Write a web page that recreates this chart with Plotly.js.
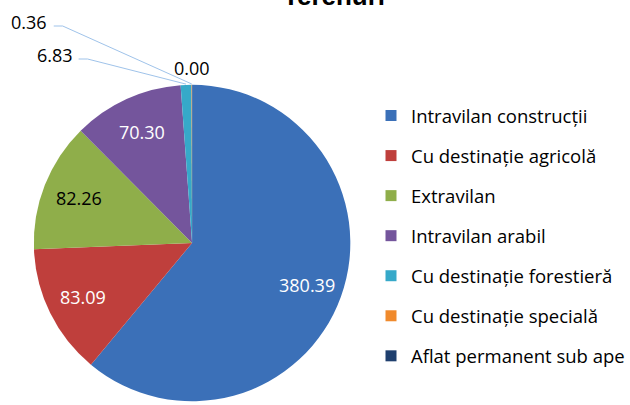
<!DOCTYPE html>
<html>
<head>
<meta charset="utf-8">
<script src="https://cdn.plot.ly/plotly-3.0.1.min.js"></script>
<style>html,body{margin:0;padding:0;background:#fff}#chart{width:630px;height:405px}</style>
</head>
<body>
<div id="chart"></div>
<script>
// ---- data ----
const categories = [
  "Intravilan construcții",
  "Cu destinație agricolă",
  "Extravilan",
  "Intravilan arabil",
  "Cu destinație forestieră",
  "Cu destinație specială",
  "Aflat permanent sub ape"
];
const values = [380.39, 83.09, 82.26, 70.30, 6.83, 0.36, 0.00];
const valueLabels = ["380.39", "83.09", "82.26", "70.30", "6.83", "0.36", "0.00"];
const titleText = "Terenuri";

// ---- styles ----
const colors = ["#3b70b8", "#bf3f3c", "#8fae4a", "#74559c", "#36a9c9", "#f08a2c", "#1f3f6e"];
const labelColors = ["#ffffff", "#ffffff", "#000000", "#ffffff", "#000000", "#000000", "#000000"];
const W = 630, H = 405;
const dom = {x: [34 / W, 352 / W], y: [1 - 402 / H, 1 - 84 / H]};
const insideFrac = 0.77;
// leader-labelled slices: text centre + elbow (pixels)
const leader = {
  4: {tx: 55, ty: 55, elbow: [88, 59], start: [79, 59]},
  5: {tx: 29, ty: 22, elbow: [63, 26], start: [54, 26]}
};
const outsideGap = 16;
const labelFont = {family: "'Open Sans', 'Noto Sans', sans-serif", size: 18};

// ---- geometry from the pie domain ----
const cx = W * (dom.x[0] + dom.x[1]) / 2;
const cy = H * (1 - (dom.y[0] + dom.y[1]) / 2);
const R = Math.min(W * (dom.x[1] - dom.x[0]), H * (dom.y[1] - dom.y[0])) / 2;
const total = values.reduce((a, b) => a + b, 0);
const px2x = p => p / W, py2y = p => 1 - p / H;

const annotations = [];
const shapes = [];
let cum = 0;
values.forEach((v, i) => {
  const mid = (cum + v / 2) / total * 2 * Math.PI;
  cum += v;
  const s = Math.sin(mid), c = Math.cos(mid);
  let x, y;
  if (leader[i]) {
    const L = leader[i];
    const ex = cx + R * s, ey = cy - R * c;
    shapes.push({type: "path", xref: "paper", yref: "paper",
      path: `M ${px2x(L.start[0])} ${py2y(L.start[1])} L ${px2x(L.elbow[0])} ${py2y(L.elbow[1])} L ${px2x(ex)} ${py2y(ey)}`,
      line: {color: "#9fc3ea", width: 1}});
    x = px2x(L.tx); y = py2y(L.ty);
  } else if (v / total < 0.02) {
    const rr = R + outsideGap;
    x = px2x(cx + rr * s); y = py2y(cy - rr * c);
  } else {
    const rr = R * insideFrac;
    x = px2x(cx + rr * s); y = py2y(cy - rr * c);
  }
  annotations.push({x: x, y: y, xref: "paper", yref: "paper",
    text: valueLabels[i], showarrow: false, xanchor: "center", yanchor: "middle",
    font: Object.assign({}, labelFont, {color: labelColors[i]})});
});

annotations.push({x: 335.5 / W, y: 1.009, xref: "paper", yref: "paper", text: "<b>" + titleText + "</b>",
  showarrow: false, xanchor: "center", yanchor: "middle",
  font: {family: "'Liberation Sans', Arial, sans-serif", size: 26, color: "#000"}});

const traces = [{
  type: "pie", labels: categories, values: values, sort: false, direction: "clockwise", rotation: 0,
  marker: {colors: colors, line: {width: 0}}, textinfo: "none", hoverinfo: "label+value",
  showlegend: false, domain: dom
}];
categories.forEach((name, i) => {
  traces.push({type: "scatter", x: [null], y: [null], mode: "markers", name: name,
    legendgroup: "g" + i, marker: {symbol: "square", size: 11, color: colors[i]}, hoverinfo: "skip"});
});

const layout = {
  width: W, height: H, margin: {l: 0, r: 0, t: 0, b: 0},
  paper_bgcolor: "#fff", plot_bgcolor: "#fff",
  xaxis: {visible: false}, yaxis: {visible: false},
  showlegend: true,
  legend: {x: 373 / W, y: 1 - 97 / H, xanchor: "left", yanchor: "top", tracegroupgap: 13,
    font: {family: "'Open Sans', 'Noto Sans', sans-serif", size: 18.5, color: "#000"}, bgcolor: "rgba(0,0,0,0)"},
  annotations: annotations, shapes: shapes
};
Plotly.newPlot("chart", traces, layout, {displayModeBar: false, staticPlot: true});
</script>
</body>
</html>
